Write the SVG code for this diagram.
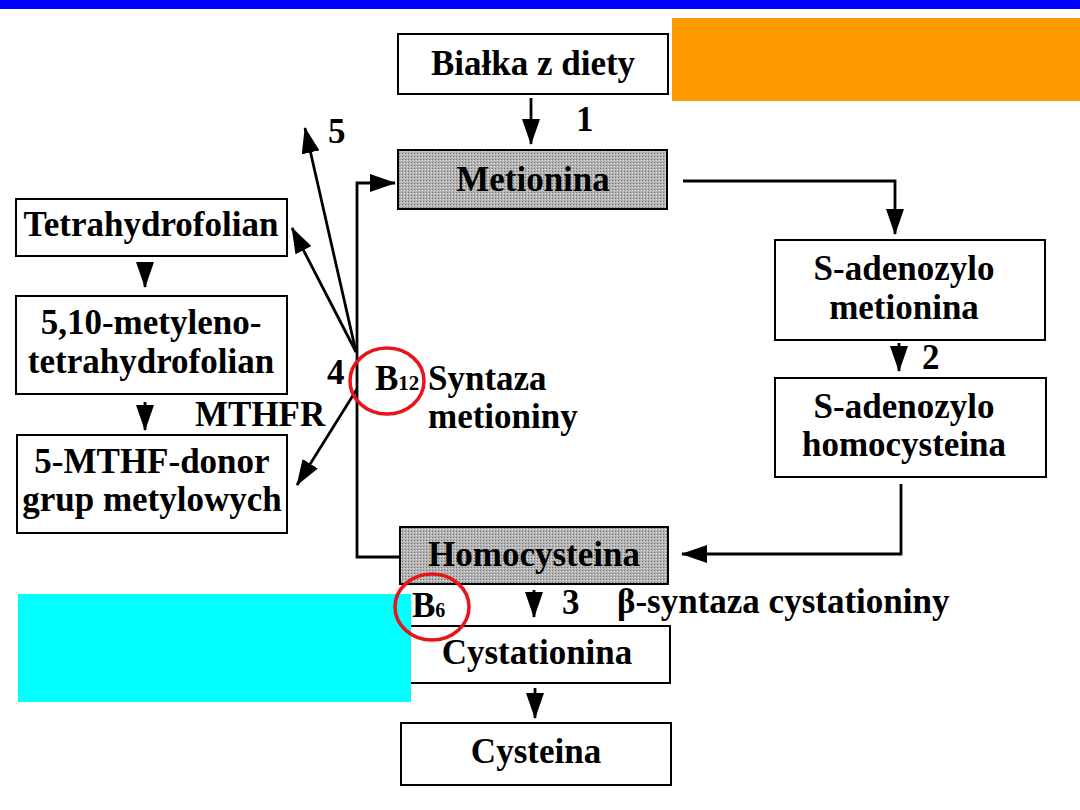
<svg xmlns="http://www.w3.org/2000/svg" width="1080" height="810" viewBox="0 0 1080 810">
<style>
text{font-family:"Liberation Serif","DejaVu Serif","Times New Roman",serif;font-weight:bold;font-size:35px;fill:#000}
.t{text-anchor:middle}
.box{fill:#fff;stroke:#000;stroke-width:2}
.gbox{fill:url(#dots);stroke:#000;stroke-width:2}
.c{fill:none;stroke:#000;stroke-width:2.8}
.ring{fill:none;stroke:#e8141b;stroke-width:3.5}
</style>
<defs>
<pattern id="dots" width="3" height="3" patternUnits="userSpaceOnUse">
<rect width="3" height="3" fill="#b4b4b4"/>
<rect width="1" height="1" fill="#707070"/>
<rect x="2" y="1" width="1" height="1" fill="#e0e0e0"/>
</pattern>
<marker id="ah" viewBox="0 0 26 18" refX="25" refY="9" markerWidth="26" markerHeight="18" orient="auto" markerUnits="userSpaceOnUse">
<path d="M0,0 L26,9 L0,18 Z" fill="#000"/>
</marker>
</defs>
<rect x="0" y="0" width="1080" height="9" fill="#0000ff"/>
<rect x="672" y="18" width="408" height="83" fill="#ff9900"/>

<g id="connectors">
<line class="c" x1="531" y1="98" x2="531" y2="144" marker-end="url(#ah)"/>
<polyline class="c" points="683,181 895,181 895,234" marker-end="url(#ah)"/>
<line class="c" x1="899" y1="343" x2="899" y2="371" marker-end="url(#ah)"/>
<polyline class="c" points="901,484 901,554 682,554" marker-end="url(#ah)"/>
<polyline class="c" points="400,557 357,557 357,183 395,183" marker-end="url(#ah)"/>
<line class="c" x1="356" y1="352" x2="305" y2="128" marker-end="url(#ah)"/>
<line class="c" x1="356" y1="352" x2="292" y2="228" marker-end="url(#ah)"/>
<line class="c" x1="357" y1="389" x2="297" y2="485" marker-end="url(#ah)"/>
<line class="c" x1="145" y1="263" x2="145" y2="287" marker-end="url(#ah)"/>
<line class="c" x1="145" y1="402" x2="145" y2="430" marker-end="url(#ah)"/>
<line class="c" x1="534" y1="590" x2="534" y2="617" marker-end="url(#ah)"/>
<line class="c" x1="535" y1="688" x2="535" y2="718" marker-end="url(#ah)"/>
</g>

<g id="bialka">
<rect class="box" x="398" y="34" width="270" height="60"/>
<text class="t" x="533" y="75">Białka z diety</text>
</g>
<g id="metionina">
<rect class="gbox" x="398" y="150" width="269" height="59"/>
<text class="t" x="533" y="191">Metionina</text>
</g>
<g id="sam">
<rect class="box" x="775" y="240" width="270" height="100"/>
<text class="t" x="904" y="280">S-adenozylo</text>
<text class="t" x="904" y="319">metionina</text>
</g>
<g id="sah">
<rect class="box" x="775" y="378" width="271" height="99"/>
<text class="t" x="904" y="418">S-adenozylo</text>
<text class="t" x="904" y="456">homocysteina</text>
</g>
<g id="homocysteina">
<rect class="gbox" x="400" y="527" width="268" height="57"/>
<text class="t" x="534" y="566">Homocysteina</text>
</g>
<g id="thf">
<rect class="box" x="16" y="199" width="271" height="57"/>
<text class="t" x="151" y="236">Tetrahydrofolian</text>
</g>
<g id="mthf510">
<rect class="box" x="16" y="296" width="271" height="98"/>
<text class="t" x="151" y="334">5,10-metyleno-</text>
<text class="t" x="151" y="373">tetrahydrofolian</text>
</g>
<g id="mthf5">
<rect class="box" x="17" y="435" width="270" height="98"/>
<text class="t" x="152" y="473">5-MTHF-donor</text>
<text class="t" x="152" y="511">grup metylowych</text>
</g>
<g id="cystationina">
<rect class="box" x="410" y="626" width="260" height="57"/>
<text class="t" x="537" y="664">Cystationina</text>
</g>
<g id="cysteina">
<rect class="box" x="401" y="723" width="270" height="62"/>
<text class="t" x="536" y="763">Cysteina</text>
</g>

<rect x="18" y="594" width="393" height="108" fill="#00ffff"/>

<g id="labels">
<text x="576" y="131">1</text>
<text x="328" y="143">5</text>
<text x="922" y="369">2</text>
<text x="327" y="384">4</text>
<text x="195" y="426">MTHFR</text>
<text x="375" y="390">B<tspan font-size="21">12</tspan></text>
<text x="428" y="390">Syntaza</text>
<text x="428" y="428">metioniny</text>
<text x="562" y="614">3</text>
<text x="617" y="613">β-syntaza cystationiny</text>
<text x="412" y="617" font-size="31">B<tspan font-size="20">6</tspan></text>
</g>
<ellipse id="ring12" class="ring" cx="387" cy="381" rx="37" ry="33"/>
<ellipse id="ring6" class="ring" cx="432" cy="607" rx="37" ry="33"/>
</svg>
